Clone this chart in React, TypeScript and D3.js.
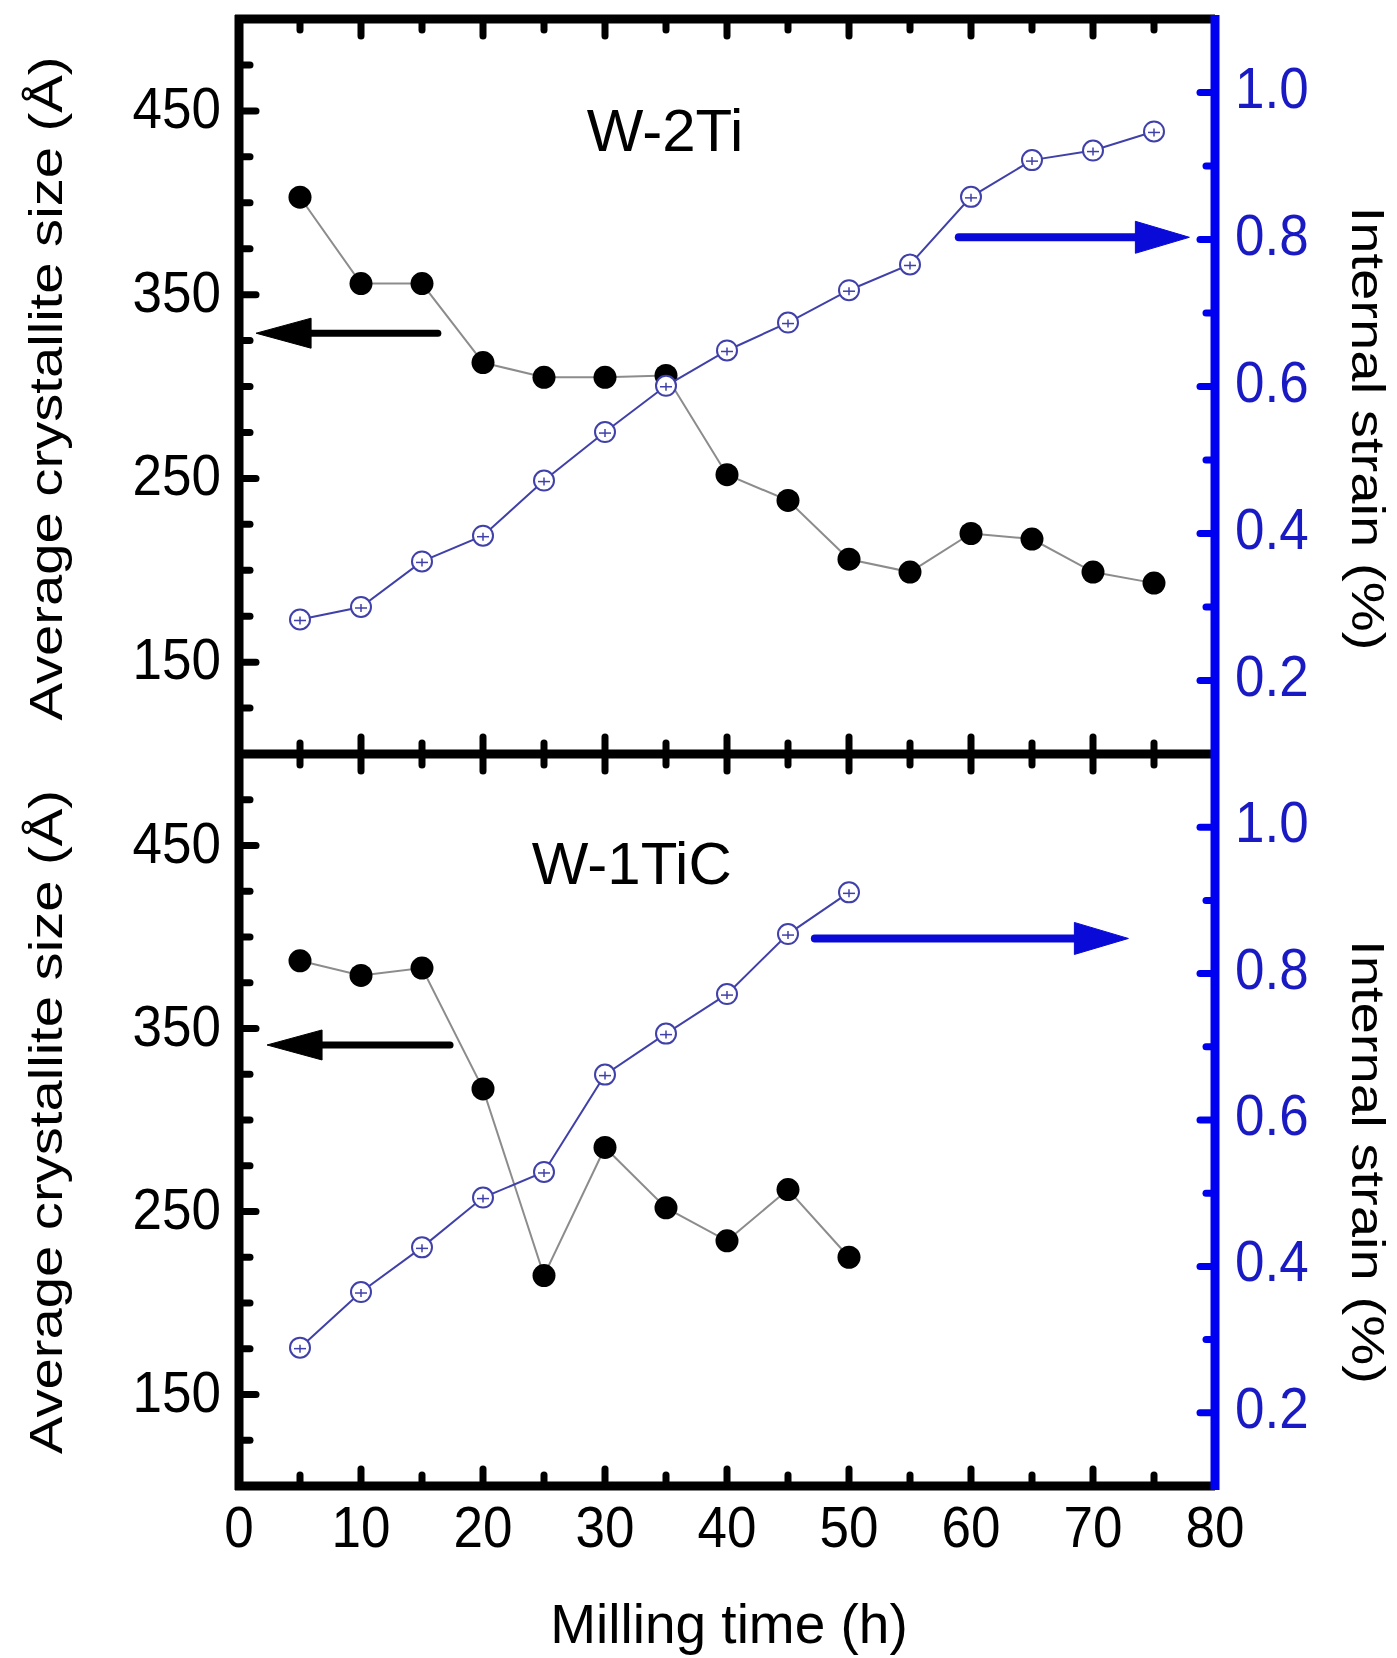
import React from "react";
import * as d3 from "d3";

// ---- data ----
const hoursW2Ti = [5, 10, 15, 20, 25, 30, 35, 40, 45, 50, 55, 60, 65, 70, 75];
const sizeW2Ti = [403, 356, 356, 313, 305, 305, 306, 252, 238, 206, 199, 220, 217, 199, 193];
const strainW2Ti = [0.283, 0.3, 0.362, 0.397, 0.472, 0.538, 0.601, 0.649, 0.687, 0.731, 0.766, 0.858, 0.908, 0.921, 0.947];

const hoursW1TiC = [5, 10, 15, 20, 25, 30, 35, 40, 45, 50];
const sizeW1TiC = [387, 379, 383, 317, 215, 285, 252, 234, 262, 225];
const strainW1TiC = [0.289, 0.365, 0.426, 0.494, 0.529, 0.662, 0.718, 0.772, 0.854, 0.911];

const xTickValues = [0, 10, 20, 30, 40, 50, 60, 70, 80];
const sizeTickLabels = [150, 250, 350, 450];
const strainTickLabels = [0.2, 0.4, 0.6, 0.8, 1.0];

const panelNames = ["W-2Ti", "W-1TiC"];
const xTitle = "Milling time (h)";
const yLeftTitle = "Average crystallite size (Å)";
const yRightTitle = "Internal strain (%)";

// annotation anchors in data units: [tail hour, head hour, value]
const sizeArrows = [
  [16.3, 1.4, 329],
  [17.3, 2.3, 341],
];
const strainArrows = [
  [59.0, 77.9, 0.803],
  [47.2, 72.9, 0.848],
];
const nameAnchors = [
  [28.5, 428],
  [24.0, 429],
];

const FONT = "'Liberation Sans', Arial, Helvetica, sans-serif";
const BLUE_AXIS = "#0000f0";
const BLUE_TEXT = "#1a1ac4";
const MARKER_BLUE = "#4040aa";

const W = 1397;
const H = 1658;
const X0 = 239;
const X1 = 1215;
const panelsY = [
  [19, 754],
  [754, 1486],
];

const x = d3.scaleLinear().domain([0, 80]).range([X0, X1]);

function Arrow({ x1, x2, y, color, width, headLen, headHalf }) {
  const dir = Math.sign(x2 - x1);
  const base = x2 - dir * headLen;
  return (
    <g>
      <line x1={x1} x2={base + dir * 2} y1={y} y2={y} stroke={color} strokeWidth={width} strokeLinecap="round" />
      <path d={`M${x2},${y} L${base},${y - headHalf} L${base},${y + headHalf} Z`} fill={color} stroke={color} strokeWidth={1} strokeLinejoin="round" />
    </g>
  );
}

function Label({ tx, ty, anchor, size, fill, children }) {
  return (
    <g transform={`translate(${tx},${ty}) scale(1,1.07)`}>
      <text x={0} y={0} textAnchor={anchor} fontFamily={FONT} fontSize={size} fill={fill}>
        {children}
      </text>
    </g>
  );
}

function Panel({ idx, hours, sizes, strains }) {
  const [top, bottom] = panelsY[idx];
  const yL = d3.scaleLinear().domain([100, 500]).range([bottom, top]);
  const yR = d3.scaleLinear().domain([0.1, 1.1]).range([bottom, top]);

  const sizeLine = d3
    .line<number>()
    .x((_, i) => x(hours[i]))
    .y((d) => yL(d));
  const strainLine = d3
    .line<number>()
    .x((_, i) => x(hours[i]))
    .y((d) => yR(d));

  const xt = d3.range(5, 80, 5);
  const lt = d3.range(125, 500, 25);
  const rt = d3.range(2, 11).map((v) => v / 10);

  const sa = sizeArrows[idx];
  const ra = strainArrows[idx];
  const na = nameAnchors[idx];
  const midY = (top + bottom) / 2;

  return (
    <g>
      {/* x ticks top (downward) and bottom (upward) */}
      {xt.map((v) => {
        const major = v % 10 === 0;
        const len = major ? 17 : 11;
        return (
          <g key={"xt" + v}>
            <line x1={x(v)} x2={x(v)} y1={top} y2={top + len} stroke="#000" strokeWidth={7} strokeLinecap="round" />
            <line x1={x(v)} x2={x(v)} y1={bottom} y2={bottom - len} stroke="#000" strokeWidth={7} strokeLinecap="round" />
          </g>
        );
      })}
      {/* left ticks */}
      {lt.map((v) => {
        const major = (v - 150) % 100 === 0;
        const len = major ? 17 : 11;
        return <line key={"lt" + v} x1={X0} x2={X0 + len} y1={yL(v)} y2={yL(v)} stroke="#000" strokeWidth={7} strokeLinecap="round" />;
      })}
      {/* right ticks */}
      {rt.map((v) => {
        const major = Math.round(v * 10) % 2 === 0;
        const len = major ? 15 : 9;
        return <line key={"rt" + v} x1={X1} x2={X1 - len} y1={yR(v)} y2={yR(v)} stroke={BLUE_AXIS} strokeWidth={7} strokeLinecap="round" />;
      })}
      {/* left tick labels */}
      {sizeTickLabels.map((v) => (
        <Label key={"ll" + v} tx={X0 - 18} ty={yL(v) + 17} anchor="end" size={53} fill="#000">
          {v}
        </Label>
      ))}
      {/* right tick labels */}
      {strainTickLabels.map((v) => (
        <Label key={"rl" + v} tx={X1 + 20} ty={yR(v) + 15} anchor="start" size={53} fill={BLUE_TEXT}>
          {v.toFixed(1)}
        </Label>
      ))}
      {/* axis titles */}
      <text
        transform={`translate(62,${midY + 2}) rotate(-90)`}
        textAnchor="middle"
        fontFamily={FONT}
        fontSize={46}
        textLength={664}
        lengthAdjust="spacingAndGlyphs"
        fill="#000"
      >
        {yLeftTitle}
      </text>
      <text
        transform={`translate(1352,${midY + 42}) rotate(90)`}
        textAnchor="middle"
        fontFamily={FONT}
        fontSize={46}
        textLength={444}
        lengthAdjust="spacingAndGlyphs"
        fill="#000"
      >
        {yRightTitle}
      </text>
      {/* panel name */}
      <text x={x(na[0])} y={yL(na[1])} fontFamily={FONT} fontSize={60} fill="#000">
        {panelNames[idx]}
      </text>
      {/* arrows */}
      <Arrow x1={x(sa[0])} x2={x(sa[1])} y={yL(sa[2])} color="#000" width={7} headLen={55} headHalf={15} />
      <Arrow x1={x(ra[0])} x2={x(ra[1])} y={yR(ra[2])} color="#0a0ad8" width={8} headLen={54} headHalf={16} />
      {/* size series */}
      <path d={sizeLine(sizes) || ""} fill="none" stroke="#8c8c8c" strokeWidth={2} />
      {sizes.map((d, i) => (
        <circle key={"s" + i} cx={x(hours[i])} cy={yL(d)} r={11.5} fill="#000" />
      ))}
      {/* strain series */}
      <path d={strainLine(strains) || ""} fill="none" stroke={MARKER_BLUE} strokeWidth={2} />
      {strains.map((d, i) => {
        const cx = x(hours[i]);
        const cy = yR(d);
        return (
          <g key={"r" + i}>
            <circle cx={cx} cy={cy} r={10} fill="#fff" stroke={MARKER_BLUE} strokeWidth={2} />
            <line x1={cx - 6} x2={cx + 6} y1={cy + 1} y2={cy + 1} stroke={MARKER_BLUE} strokeWidth={1.5} />
            <line x1={cx} x2={cx} y1={cy - 3} y2={cy + 5} stroke={MARKER_BLUE} strokeWidth={1.5} />
          </g>
        );
      })}
    </g>
  );
}

export default function App() {
  const bottomY = panelsY[1][1];
  return (
    <svg width={W} height={H} viewBox={`0 0 ${W} ${H}`} style={{ position: "absolute", left: 0, top: 0, background: "#fff" }}>
      <rect x={0} y={0} width={W} height={H} fill="#fff" />
      <Panel idx={0} hours={hoursW2Ti} sizes={sizeW2Ti} strains={strainW2Ti} />
      <Panel idx={1} hours={hoursW1TiC} sizes={sizeW1TiC} strains={strainW1TiC} />
      {/* frame */}
      <line x1={X0 - 4} x2={X1} y1={panelsY[0][0]} y2={panelsY[0][0]} stroke="#000" strokeWidth={9} />
      <line x1={X0} x2={X1} y1={panelsY[0][1]} y2={panelsY[0][1]} stroke="#000" strokeWidth={9} />
      <line x1={X0 - 4} x2={X1} y1={bottomY} y2={bottomY} stroke="#000" strokeWidth={9} />
      <line x1={X0} x2={X0} y1={panelsY[0][0] - 4} y2={bottomY + 4} stroke="#000" strokeWidth={9} />
      <line x1={X1} x2={X1} y1={panelsY[0][0] - 4} y2={bottomY + 4} stroke={BLUE_AXIS} strokeWidth={9} />
      {/* x tick labels */}
      {xTickValues.map((v) => (
        <Label key={"xl" + v} tx={x(v)} ty={bottomY + 61} anchor="middle" size={53} fill="#000">
          {v}
        </Label>
      ))}
      <text x={(X0 + X1) / 2 + 2} y={1643} textAnchor="middle" fontFamily={FONT} fontSize={55} fill="#000">
        {xTitle}
      </text>
    </svg>
  );
}
